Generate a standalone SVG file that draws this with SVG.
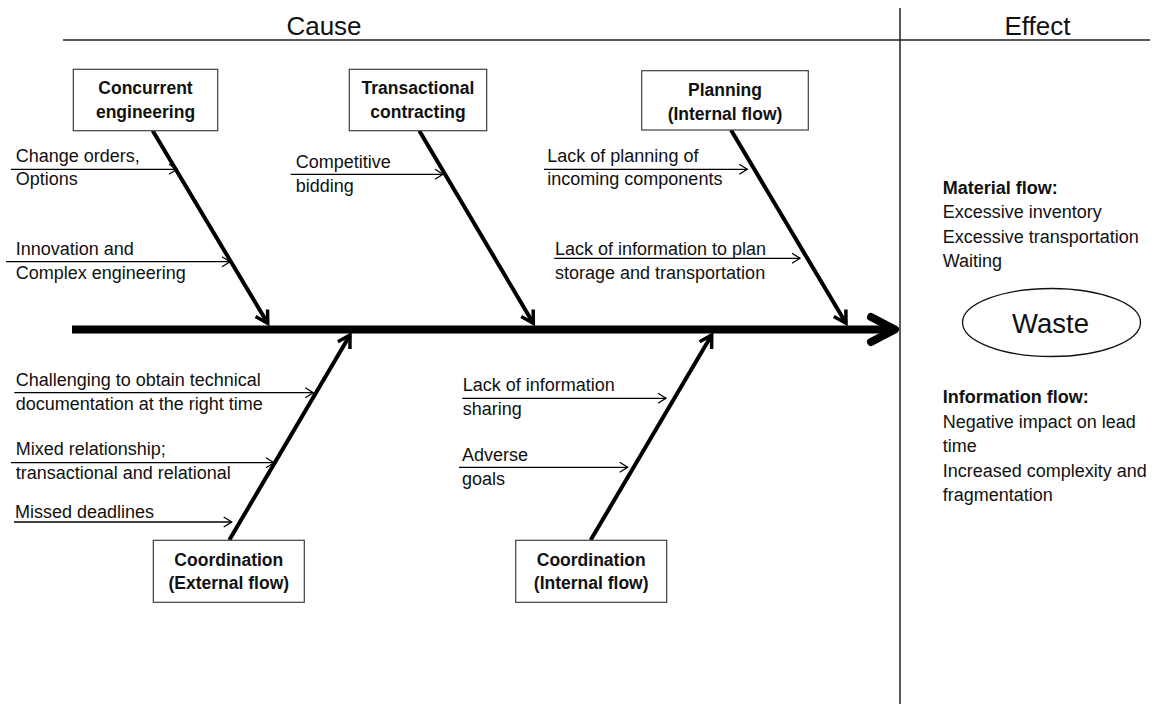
<svg xmlns="http://www.w3.org/2000/svg" width="1160" height="704" viewBox="0 0 1160 704">
  <style>
    text { font-family: "Liberation Sans", Arial, sans-serif; fill: #111; }
    .lbl { font-size: 18px; }
    .box { fill: #fff; stroke: #404040; stroke-width: 1.2; }
    .boxt { font-size: 17.5px; font-weight: bold; text-anchor: middle; }
    .head { font-size: 26px; text-anchor: middle; }
    .bold { font-weight: bold; }
    .bone { stroke: #000; stroke-width: 4; fill: none; marker-end: url(#bigHead); }
    .rib { stroke: #000; stroke-width: 1.3; fill: none; marker-end: url(#smallHead); }
    .frame { stroke: #222; stroke-width: 1.5; fill: none; }
  </style>
  <defs>
    <marker id="bigHead" viewBox="-16 -10 20 20" refX="0" refY="0" markerWidth="20" markerHeight="20" markerUnits="userSpaceOnUse" orient="auto" overflow="visible">
      <path d="M-12,-7 L0,0 L-12,7" fill="none" stroke="#000" stroke-width="3.5"/>
    </marker>
    <marker id="smallHead" viewBox="-10 -6 12 12" refX="0" refY="0" markerWidth="12" markerHeight="12" markerUnits="userSpaceOnUse" orient="auto" overflow="visible">
      <path d="M-8,-5 L0,0 L-8,5" fill="none" stroke="#000" stroke-width="1.3"/>
    </marker>
  </defs>

  <rect width="1160" height="704" fill="#fff"/>

  <g id="frame">
    <line class="frame" x1="63" y1="40" x2="1150" y2="40"/>
    <line class="frame" x1="900" y1="8" x2="900" y2="704"/>
    <text class="head" x="324" y="34.5">Cause</text>
    <text class="head" x="1037.5" y="35">Effect</text>
  </g>

  <g id="connectors">
    <!-- spine -->
    <line x1="72" y1="329.5" x2="893" y2="329.5" stroke="#000" stroke-width="8"/>
    <polyline points="871,317 895,329.5 871,342" fill="none" stroke="#000" stroke-width="8" stroke-linecap="round" stroke-linejoin="round"/>
    <!-- bones -->
    <line class="bone" x1="152.7" y1="130.7" x2="267.7" y2="323.3"/>
    <line class="bone" x1="419.3" y1="130.7" x2="533.3" y2="323.3"/>
    <line class="bone" x1="731" y1="130" x2="846" y2="323.3"/>
    <line class="bone" x1="229.3" y1="540" x2="350" y2="335"/>
    <line class="bone" x1="590.7" y1="540" x2="711.7" y2="335"/>
    <!-- ribs -->
    <line class="rib" x1="11" y1="169.3" x2="177" y2="169.3"/>
    <line class="rib" x1="6" y1="261.7" x2="230" y2="261.7"/>
    <line class="rib" x1="290.7" y1="174.3" x2="443" y2="174.3"/>
    <line class="rib" x1="544" y1="169.3" x2="747.3" y2="169.3"/>
    <line class="rib" x1="554.3" y1="258.3" x2="800" y2="258.3"/>
    <line class="rib" x1="14.3" y1="392.7" x2="313.3" y2="392.7"/>
    <line class="rib" x1="11" y1="462.7" x2="274" y2="462.7"/>
    <line class="rib" x1="14" y1="522" x2="231.7" y2="522"/>
    <line class="rib" x1="462.3" y1="398.3" x2="666" y2="398.3"/>
    <line class="rib" x1="459" y1="467.3" x2="627.7" y2="467.3"/>
  </g>

  <g id="node-concurrent">
    <rect class="box" x="73.3" y="69.3" width="144.4" height="61.4"/>
    <text class="boxt" x="145.5" y="94.3">Concurrent</text>
    <text class="boxt" x="145.5" y="118.3">engineering</text>
  </g>
  <g id="node-transactional">
    <rect class="box" x="349.3" y="69.3" width="137.4" height="61.4"/>
    <text class="boxt" x="418" y="94.3">Transactional</text>
    <text class="boxt" x="418" y="118.3">contracting</text>
  </g>
  <g id="node-planning">
    <rect class="box" x="641.7" y="70.7" width="166.6" height="59.3"/>
    <text class="boxt" x="725" y="95.5">Planning</text>
    <text class="boxt" x="725" y="119.5">(Internal flow)</text>
  </g>
  <g id="node-coord-external">
    <rect class="box" x="153.3" y="540.3" width="151" height="62"/>
    <text class="boxt" x="228.8" y="565.8">Coordination</text>
    <text class="boxt" x="228.8" y="589">(External flow)</text>
  </g>
  <g id="node-coord-internal">
    <rect class="box" x="515.7" y="540.3" width="151" height="62"/>
    <text class="boxt" x="591.2" y="565.5">Coordination</text>
    <text class="boxt" x="591.2" y="588.5">(Internal flow)</text>
  </g>

  <g id="cause-labels">
    <text class="lbl" x="15.7" y="161.5">Change orders,</text>
    <text class="lbl" x="15.7" y="185">Options</text>
    <text class="lbl" x="15.7" y="255">Innovation and</text>
    <text class="lbl" x="15.7" y="279.3">Complex engineering</text>
    <text class="lbl" x="295.7" y="168.3">Competitive</text>
    <text class="lbl" x="295.7" y="191.7">bidding</text>
    <text class="lbl" x="547.3" y="161.7">Lack of planning of</text>
    <text class="lbl" x="547.3" y="185">incoming components</text>
    <text class="lbl" x="555" y="255">Lack of information to plan</text>
    <text class="lbl" x="555" y="279.3">storage and transportation</text>
    <text class="lbl" x="15.7" y="385.7">Challenging to obtain technical</text>
    <text class="lbl" x="15.7" y="410">documentation at the right time</text>
    <text class="lbl" x="15.7" y="455">Mixed relationship;</text>
    <text class="lbl" x="15.7" y="479.3">transactional and relational</text>
    <text class="lbl" x="15" y="518.3">Missed deadlines</text>
    <text class="lbl" x="462.7" y="391">Lack of information</text>
    <text class="lbl" x="462.7" y="415">sharing</text>
    <text class="lbl" x="462" y="461">Adverse</text>
    <text class="lbl" x="462" y="485">goals</text>
  </g>

  <g id="node-waste">
    <ellipse cx="1051.5" cy="322.5" rx="89" ry="34" fill="#fff" stroke="#111" stroke-width="1.3"/>
    <text x="1050.5" y="332.7" font-size="27.5" text-anchor="middle">Waste</text>
  </g>

  <g id="effect-material">
    <text class="lbl bold" x="942.7" y="194">Material flow:</text>
    <text class="lbl" x="942.7" y="218.3">Excessive inventory</text>
    <text class="lbl" x="942.7" y="242.7">Excessive transportation</text>
    <text class="lbl" x="942.7" y="267">Waiting</text>
  </g>
  <g id="effect-information">
    <text class="lbl bold" x="942.7" y="403.3">Information flow:</text>
    <text class="lbl" x="942.7" y="427.5">Negative impact on lead</text>
    <text class="lbl" x="942.7" y="451.7">time</text>
    <text class="lbl" x="942.7" y="476.5">Increased complexity and</text>
    <text class="lbl" x="942.7" y="501">fragmentation</text>
  </g>
</svg>
